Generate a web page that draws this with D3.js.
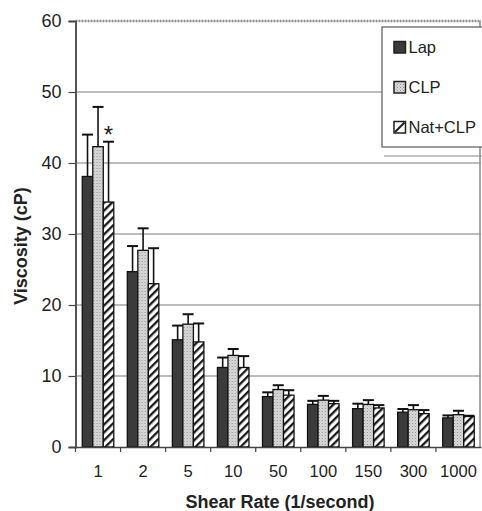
<!DOCTYPE html>
<html><head><meta charset="utf-8">
<script src="https://cdn.jsdelivr.net/npm/d3@7"></script>
<style>body{margin:0;background:#fff}svg{display:block;font-family:"Liberation Sans",Arial,sans-serif}</style>
</head><body><svg id="c" width="482" height="511"></svg>
<script>
const categories = ["1","2","5","10","50","100","150","300","1000"];
const seriesNames = ["Lap","CLP","Nat+CLP"];
const lap   = [38.1, 24.7, 15.1, 11.2, 7.1, 6.0, 5.4, 4.9, 4.1];
const clp   = [42.3, 27.7, 17.3, 12.9, 8.1, 6.6, 6.0, 5.25, 4.55];
const nat   = [34.5, 23.0, 14.8, 11.2, 7.3, 6.1, 5.5, 4.7, 4.3];
const lapSD = [5.9, 3.6, 2.0, 1.4, 0.6, 0.5, 0.7, 0.45, 0.35];
const clpSD = [5.6, 3.1, 1.4, 0.9, 0.6, 0.6, 0.6, 0.65, 0.55];
const natSD = [8.5, 5.0, 2.6, 1.6, 0.7, 0.4, 0.4, 0.5, 0.1];
const yTicks = [0,10,20,30,40,50,60];
const starAt = {cat:"1", series:"Nat+CLP"};

const svg = d3.select("#c");
const m = {l:75.5, r:481, t:21, b:447};
const x0 = d3.scaleBand().domain(categories).range([m.l, m.r]).padding(0);
const x1 = d3.scaleBand().domain(seriesNames).range([x0.bandwidth()*0.15, x0.bandwidth()*0.85]).padding(0);
const y = d3.scaleLinear().domain([0,60]).range([m.b, m.t]);

const defs = svg.append("defs");
const pc = defs.append("pattern").attr("id","dots").attr("patternUnits","userSpaceOnUse").attr("width",3).attr("height",3);
pc.append("rect").attr("width",3).attr("height",3).attr("fill","#dcdcdc");
pc.append("rect").attr("x",0).attr("y",0).attr("width",1).attr("height",1).attr("fill","#8a8a8a");
pc.append("rect").attr("x",1.5).attr("y",1.5).attr("width",1).attr("height",1).attr("fill","#a8a8a8");
const ph = defs.append("pattern").attr("id","hatch").attr("patternUnits","userSpaceOnUse").attr("width",5.6).attr("height",5.6).attr("patternTransform","rotate(45)");
ph.append("rect").attr("width",5.6).attr("height",5.6).attr("fill","#fff");
ph.append("rect").attr("x",0).attr("y",0).attr("width",2.3).attr("height",5.6).attr("fill","#1a1a1a");

const fills = {"Lap":"#3b3b3b","CLP":"url(#dots)","Nat+CLP":"url(#hatch)"};

// gridlines
svg.append("g").selectAll("line").data(yTicks.filter(t=>t>0 && t<60)).join("line")
  .attr("x1",m.l).attr("x2",m.r).attr("y1",d=>y(d)).attr("y2",d=>y(d))
  .attr("stroke","#7a7a7a").attr("stroke-width",1.2);
// top & right border
svg.append("line").attr("x1",m.l).attr("x2",m.r).attr("y1",y(60)).attr("y2",y(60)).attr("stroke","#8c8c8c").attr("stroke-width",2.4).attr("stroke-dasharray","2,1");
svg.append("line").attr("x1",m.r-1).attr("x2",m.r-1).attr("y1",y(60)).attr("y2",m.b).attr("stroke","#8a8a8a").attr("stroke-width",1.5);

const data = categories.map((c,i)=>({cat:c, vals:[
  {s:"Lap", v:lap[i], e:lapSD[i]},
  {s:"CLP", v:clp[i], e:clpSD[i]},
  {s:"Nat+CLP", v:nat[i], e:natSD[i]}]}));

const g = svg.append("g").selectAll("g").data(data).join("g").attr("transform",d=>`translate(${x0(d.cat)},0)`);
// error bars
const eb = g.selectAll("g.err").data(d=>d.vals).join("g").attr("class","err");
eb.append("line").attr("x1",d=>x1(d.s)+x1.bandwidth()/2).attr("x2",d=>x1(d.s)+x1.bandwidth()/2)
  .attr("y1",d=>y(d.v)).attr("y2",d=>y(d.v+d.e)).attr("stroke","#111").attr("stroke-width",1.6);
eb.append("line").attr("x1",d=>x1(d.s)+x1.bandwidth()/2-5.5).attr("x2",d=>x1(d.s)+x1.bandwidth()/2+5.5)
  .attr("y1",d=>y(d.v+d.e)).attr("y2",d=>y(d.v+d.e)).attr("stroke","#111").attr("stroke-width",2);
// bars
g.selectAll("rect").data(d=>d.vals).join("rect")
  .attr("x",d=>x1(d.s)).attr("width",x1.bandwidth())
  .attr("y",d=>y(d.v)).attr("height",d=>y(0)-y(d.v))
  .attr("fill",d=>fills[d.s]).attr("stroke","#111").attr("stroke-width",1.3);

// asterisk
const si = categories.indexOf(starAt.cat);
svg.append("text").attr("x",x0(starAt.cat)+x1(starAt.series)+x1.bandwidth()/2)
  .attr("y",y(nat[si]+natSD[si])+1).attr("text-anchor","middle").attr("font-size",24).attr("fill","#222").text("*");

// y axis
const ya = svg.append("g").attr("transform",`translate(${m.l},0)`)
  .call(d3.axisLeft(y).tickValues(yTicks).tickSize(7).tickPadding(7));
ya.select(".domain").attr("stroke","#555").attr("stroke-width",2);
ya.selectAll(".tick line").attr("stroke","#444").attr("stroke-width",1.2);
ya.selectAll("text").attr("font-size",18).attr("fill","#222").attr("font-family","Liberation Sans, Arial, sans-serif");

// x axis
const xa = svg.append("g").attr("transform",`translate(0,${m.b})`)
  .call(d3.axisBottom(x0).tickSize(0).tickPadding(18));
xa.select(".domain").attr("stroke","#444").attr("stroke-width",1.5);
xa.selectAll("text").attr("font-size",16.5).attr("fill","#222").attr("font-family","Liberation Sans, Arial, sans-serif");
xa.selectAll("line.bt").data(categories).join("line").attr("class","bt")
  .attr("x1",d=>x0(d)).attr("x2",d=>x0(d)).attr("y1",0).attr("y2",5).attr("stroke","#444").attr("stroke-width",1.2);

// axis titles
svg.append("text").attr("transform","translate(27,246) rotate(-90)").attr("text-anchor","middle")
  .attr("font-size",18).attr("font-weight","bold").attr("fill","#222").text("Viscosity (cP)");
svg.append("text").attr("x",280).attr("y",508).attr("text-anchor","middle")
  .attr("font-size",18).attr("font-weight","bold").attr("fill","#222").text("Shear Rate (1/second)");

// legend
const lg = svg.append("g");
lg.append("line").attr("x1",384).attr("x2",482).attr("y1",156).attr("y2",156).attr("stroke","#888").attr("stroke-width",1.2);
lg.append("rect").attr("x",382).attr("y",27).attr("width",110).attr("height",120).attr("fill","#fff").attr("stroke","#666").attr("stroke-width",1.3);
const li = lg.selectAll("g.li").data(seriesNames).join("g").attr("class","li").attr("transform",(d,i)=>`translate(394,${53+i*40})`);
li.append("rect").attr("x",0).attr("y",-11.5).attr("width",11.5).attr("height",11.5).attr("fill",d=>d==="Nat+CLP"?"#fff":fills[d]).attr("stroke","#222").attr("stroke-width",1.5);
li.filter(d=>d==="Nat+CLP").append("line").attr("x1",1).attr("y1",-1).attr("x2",10.5).attr("y2",-10.5).attr("stroke","#222").attr("stroke-width",2.2);
li.append("text").attr("x",14.5).attr("y",0).attr("font-size",16.5).attr("fill","#222").text(d=>d);
</script></body></html>
